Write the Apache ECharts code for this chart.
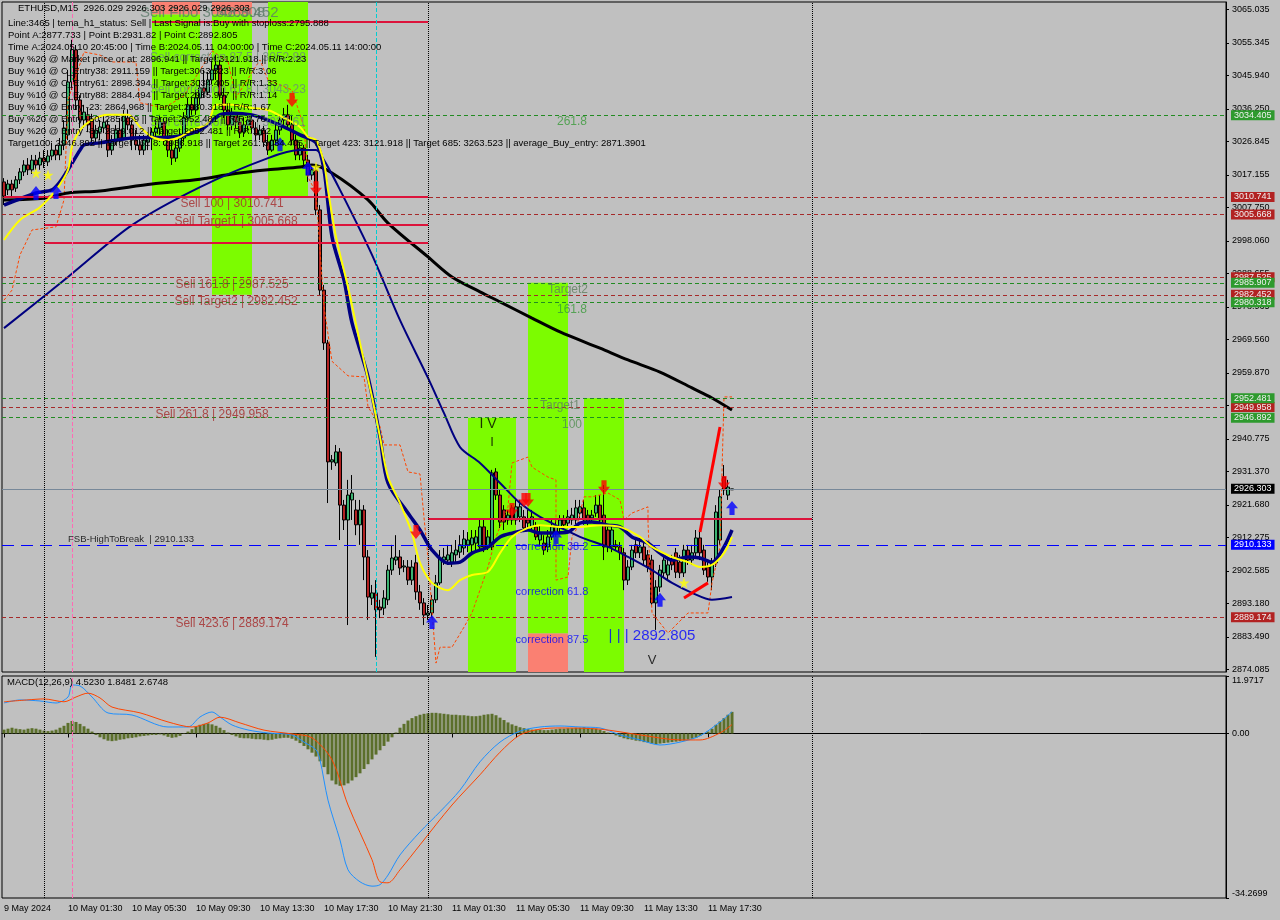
<!DOCTYPE html>
<html><head><meta charset="utf-8">
<script src="https://cdn.jsdelivr.net/npm/echarts@6/dist/echarts.min.js"></script>
<style>html,body{margin:0;padding:0;background:#c0c0c0}#c{width:1280px;height:920px}</style>
</head><body><div id="c"></div><script>
const FONT = 'Liberation Sans, Arial, sans-serif';
const N_SLOTS = 306;
const xTickIdx = [0,16,32,48,64,80,96,112,128,144,160,176];
const xTickLabels = ['9 May 2024','10 May 01:30','10 May 05:30','10 May 09:30','10 May 13:30','10 May 17:30','10 May 21:30','11 May 01:30','11 May 05:30','11 May 09:30','11 May 13:30','11 May 17:30'];
const priceTicks = [3065.035,3055.345,3045.940,3036.250,3026.845,3017.155,3007.750,2998.060,2988.655,2978.965,2969.560,2959.870,2950.465,2940.775,2931.370,2921.680,2912.275,2902.585,2893.180,2883.490,2874.085];
const priceMin = 2873.32, priceMax = 3067.15;
const macdMin = -34.2699, macdMax = 11.9717;
const macdTicks = [-34.2699, 0, 11.9717];

// [open, close, low, high]
const ohlc = [
[3015.1,3011.0,3008.4,3016.2],[3012.8,3014.5,3011.3,3015.7],[3014.5,3012.8,3011.0,3015.7],[3013.3,3015.7,3012.2,3016.8],[3015.7,3018.0,3014.5,3019.1],
[3018.0,3020.0,3016.8,3021.4],[3020.0,3018.6,3017.1,3022.0],[3018.6,3021.4,3017.4,3022.9],[3021.4,3020.0,3018.6,3022.9],[3020.0,3022.0,3018.6,3023.8],
[3022.0,3020.9,3019.1,3024.3],[3020.9,3022.6,3019.7,3024.3],[3022.6,3024.3,3021.4,3026.4],[3024.3,3022.9,3021.4,3025.8],[3022.9,3025.8,3021.4,3027.8],
[3025.8,3030.7,3024.3,3033.0],[3028.7,3044.0,3027.2,3047.5],[3044.0,3053.3,3041.7,3056.2],[3053.3,3038.8,3035.9,3054.7],[3038.8,3033.0,3030.7,3040.2],
[3033.0,3035.3,3030.7,3037.4],[3034.5,3031.6,3029.5,3036.5],[3033.0,3027.8,3025.8,3034.8],[3027.8,3030.1,3026.6,3031.6],[3029.5,3031.0,3027.2,3033.0],
[3030.7,3032.4,3029.2,3034.5],[3031.6,3024.3,3022.3,3033.0],[3024.3,3027.2,3022.9,3028.7],[3027.2,3030.1,3025.8,3031.6],[3030.1,3027.8,3026.4,3033.6],
[3027.8,3034.5,3027.2,3035.9],[3033.6,3031.6,3030.1,3035.9],[3031.6,3027.2,3024.3,3033.0],[3027.2,3025.8,3024.3,3030.1],[3025.8,3024.3,3022.9,3028.7],
[3024.3,3027.2,3022.9,3028.7],[3026.6,3027.8,3024.3,3029.5],[3027.8,3029.5,3024.3,3030.7],[3029.5,3030.7,3027.8,3033.0],[3030.7,3032.4,3028.7,3034.5],
[3032.4,3027.8,3025.8,3033.6],[3027.8,3024.3,3022.3,3030.1],[3024.3,3022.0,3020.0,3027.2],[3022.0,3024.9,3020.9,3027.2],[3024.9,3027.8,3023.8,3030.1],
[3027.8,3033.6,3026.6,3035.3],[3033.6,3037.4,3032.4,3039.4],[3037.4,3035.9,3034.5,3039.4],[3035.9,3039.4,3034.5,3041.7],[3039.4,3042.3,3037.4,3044.6],
[3042.3,3041.1,3039.4,3047.5],[3041.1,3044.6,3040.2,3046.9],[3044.6,3047.5,3043.1,3050.4],[3047.5,3048.9,3044.6,3051.8],[3048.9,3040.2,3038.8,3050.4],
[3040.2,3035.9,3033.6,3042.3],[3035.9,3031.6,3030.1,3037.4],[3031.6,3034.5,3030.1,3036.5],[3034.5,3032.4,3030.7,3035.3],[3032.4,3029.5,3027.8,3034.2],
[3029.5,3031.6,3028.1,3033.6],[3031.6,3033.0,3030.1,3034.5],[3033.0,3030.7,3029.2,3034.5],[3030.7,3028.7,3027.2,3032.4],[3028.7,3030.1,3027.2,3031.6],
[3030.1,3026.6,3025.2,3031.3],[3026.6,3024.3,3022.9,3028.7],[3024.3,3027.2,3023.8,3028.7],[3027.2,3030.1,3025.8,3031.6],[3030.1,3033.0,3028.7,3034.5],
[3033.0,3034.5,3031.6,3036.5],[3034.5,3031.6,3030.1,3037.4],[3031.6,3027.2,3025.8,3034.5],[3027.2,3022.9,3021.4,3028.7],[3022.9,3024.9,3021.4,3026.6],
[3024.9,3021.4,3020.0,3025.8],[3021.4,3017.1,3015.1,3022.9],[3017.1,3018.6,3015.7,3020.0],[3018.6,3007.0,3005.5,3020.0],[3007.0,2983.8,2982.4,3008.4],
[2983.8,2968.5,2966.5,2985.3],[2968.5,2934.1,2922.2,2969.4],[2934.1,2934.7,2931.8,2936.1],[2933.8,2937.0,2932.9,2939.0],[2937.0,2921.6,2911.5,2938.1],
[2921.6,2917.3,2914.4,2923.1],[2917.3,2924.5,2886.9,2928.9],[2923.1,2925.1,2917.3,2930.3],[2920.2,2915.9,2912.9,2923.1],[2915.9,2920.2,2910.1,2923.1],
[2920.2,2906.6,2899.9,2921.6],[2906.6,2895.0,2888.4,2908.6],[2894.7,2896.2,2892.7,2898.5],[2896.2,2891.3,2877.7,2899.9],[2892.1,2891.3,2888.9,2894.2],
[2891.8,2894.7,2889.8,2897.0],[2894.2,2902.8,2892.7,2904.3],[2902.8,2906.3,2901.4,2910.1],[2905.7,2906.6,2904.3,2912.9],[2906.6,2903.4,2901.4,2908.6],
[2903.7,2904.0,2902.2,2905.7],[2903.7,2899.9,2898.5,2905.7],[2899.9,2903.7,2898.5,2905.7],[2904.9,2896.5,2894.2,2907.2],[2896.5,2893.3,2891.3,2898.5],
[2893.3,2889.8,2886.9,2894.7],[2889.8,2890.4,2888.4,2892.7],[2890.4,2894.2,2888.9,2895.6],[2894.2,2899.1,2893.3,2901.4],[2899.1,2906.3,2898.5,2908.6],
[2905.7,2906.6,2904.3,2909.2],[2905.7,2907.2,2904.3,2910.1],[2905.1,2907.8,2903.7,2910.1],[2907.2,2908.6,2905.1,2911.5],[2908.0,2910.1,2906.3,2912.9],
[2909.2,2911.8,2907.2,2914.4],[2910.1,2911.5,2908.0,2913.8],[2910.1,2912.1,2908.0,2914.4],[2910.6,2912.4,2908.6,2914.4],[2909.5,2915.3,2908.6,2917.3],
[2915.3,2909.5,2908.0,2917.3],[2909.5,2912.4,2908.6,2914.4],[2909.5,2930.9,2908.6,2931.8],[2931.2,2924.5,2923.1,2932.3],[2924.5,2916.7,2915.0,2926.0],
[2920.2,2916.7,2914.4,2921.6],[2917.3,2918.7,2915.9,2920.2],[2920.8,2917.3,2915.9,2921.6],[2917.3,2921.1,2915.9,2923.1],[2918.2,2921.1,2916.7,2923.1],
[2918.2,2915.0,2913.8,2920.2],[2917.3,2916.4,2914.4,2920.2],[2915.3,2918.2,2913.8,2920.2],[2915.3,2912.4,2911.5,2916.7],[2911.5,2913.5,2910.1,2915.9],
[2910.6,2908.6,2907.2,2912.9],[2909.5,2912.4,2908.0,2914.4],[2912.4,2915.3,2911.5,2917.3],[2913.5,2915.3,2912.4,2917.3],[2915.3,2917.3,2913.8,2918.7],
[2917.3,2915.9,2914.4,2918.7],[2916.4,2918.2,2915.3,2920.2],[2917.3,2918.7,2915.9,2920.8],[2917.3,2920.8,2916.1,2923.1],[2919.3,2921.1,2917.9,2923.1],
[2920.8,2917.3,2915.9,2923.1],[2918.7,2916.7,2915.3,2920.2],[2917.9,2918.7,2916.7,2920.2],[2919.3,2921.6,2918.2,2924.5],[2921.6,2917.3,2915.9,2924.5],
[2918.7,2909.5,2905.7,2927.4],[2914.4,2909.5,2908.0,2915.9],[2909.5,2914.4,2908.0,2915.9],[2910.1,2909.5,2908.6,2911.5],[2909.5,2907.8,2905.7,2910.9],
[2907.8,2899.9,2897.0,2909.2],[2899.9,2903.7,2898.5,2905.7],[2903.7,2908.6,2902.8,2910.1],[2910.1,2907.8,2906.3,2911.5],[2907.8,2909.5,2906.3,2911.5],
[2909.5,2905.7,2904.3,2911.5],[2907.2,2903.7,2902.2,2908.6],[2905.7,2893.3,2892.8,2907.2],[2893.3,2897.9,2885.5,2899.9],[2897.9,2902.8,2896.5,2904.3],
[2902.0,2905.7,2900.5,2907.2],[2901.4,2904.3,2899.9,2906.3],[2905.7,2904.3,2902.8,2907.2],[2907.8,2902.2,2900.5,2909.2],[2905.1,2902.0,2900.5,2907.2],
[2902.0,2908.6,2900.8,2910.1],[2908.6,2905.7,2904.3,2910.1],[2905.7,2907.8,2904.3,2910.1],[2907.8,2912.1,2906.6,2914.4],[2912.1,2907.8,2905.7,2914.4],
[2908.6,2902.8,2901.4,2910.1],[2903.7,2900.8,2899.4,2905.7],[2900.8,2904.9,2897.0,2906.3],[2904.9,2919.6,2903.7,2921.6],[2911.5,2924.0,2910.1,2926.0],
[2929.7,2926.0,2924.5,2933.2],[2924.5,2926.8,2923.1,2928.9],[2926.03,2926.30,2926.03,2926.30]
];

// moving averages: [bar index, price]
const maSlowBlack = [[0,3009.9],[10,3010.4],[16,3011.9],[24,3012.5],[37,3014.5],[49,3015.9],[57,3017.4],[66,3018.6],[74,3019.4],[77,3020.0],[82,3017.7],[91,3009.9],[96,3003.2],[106,2993.4],[112,2987.6],[119,2983.3],[124,2980.4],[132,2975.7],[139,2971.7],[149,2967.0],[156,2963.6],[164,2960.1],[172,2955.5],[177,2952.6],[182,2949.1]];
const maMidNavy = [[0,2972.8],[16,2987.6],[32,3002.6],[49,3013.6],[66,3022.0],[74,3024.3],[78,3024.3],[80,3021.4],[84,3012.8],[92,2994.0],[99,2975.1],[106,2958.4],[110,2948.2],[114,2938.4],[119,2933.8],[124,2928.0],[129,2922.2],[134,2918.2],[144,2912.4],[151,2909.5],[156,2906.6],[162,2902.8],[167,2899.1],[172,2896.2],[177,2894.2],[182,2895.0]];
const maFastNavy = [[0,3008.4],[8,3011.9],[12,3012.8],[14,3015.1],[16,3018.6],[19,3024.3],[20,3025.8],[24,3026.4],[32,3027.8],[42,3028.1],[49,3030.1],[54,3034.5],[57,3035.0],[62,3034.5],[66,3033.0],[70,3031.0],[74,3028.7],[78,3026.4],[80,3018.6],[82,2999.2],[85,2986.7],[87,2974.3],[91,2958.7],[94,2941.3],[96,2928.0],[101,2919.3],[104,2914.4],[107,2908.6],[111,2904.8],[114,2905.1],[117,2907.7],[121,2909.5],[124,2912.4],[127,2913.5],[131,2914.4],[134,2913.5],[137,2913.5],[141,2913.8],[144,2916.4],[147,2916.7],[151,2915.8],[154,2915.3],[157,2912.4],[161,2910.6],[164,2907.7],[167,2905.7],[171,2906.6],[174,2906.3],[177,2905.1],[180,2909.5],[182,2914.4]];
const maYellow = [[0,2998.3],[4,3004.1],[9,3007.8],[13,3012.8],[16,3018.6],[17,3025.2],[19,3030.1],[22,3033.0],[26,3034.5],[31,3034.5],[34,3031.0],[37,3028.1],[41,3027.2],[44,3028.1],[47,3030.1],[51,3032.1],[53,3037.4],[57,3037.4],[62,3036.5],[66,3035.9],[70,3033.6],[74,3031.0],[76,3028.1],[78,3027.2],[80,3020.6],[81,3012.8],[83,2999.2],[86,2984.7],[89,2968.5],[92,2952.9],[94,2941.3],[96,2929.7],[99,2922.2],[102,2913.5],[104,2904.9],[107,2899.1],[111,2897.0],[114,2899.9],[117,2901.4],[121,2902.3],[124,2907.7],[127,2912.4],[131,2915.0],[134,2915.8],[139,2915.3],[144,2915.3],[149,2915.8],[154,2915.3],[159,2912.4],[162,2909.5],[167,2906.6],[171,2905.1],[174,2903.7],[177,2904.3],[180,2907.7],[182,2912.4]];
const stopLine = [[0,2980.9],[2,2983.8],[4,2994.0],[7,3001.2],[13,3002.1],[15,3009.9],[16,3038.8],[20,3052.7],[24,3051.8],[27,3049.8],[33,3049.8],[34,3038.0],[40,3036.5],[45,3040.0],[52,3053.0],[56,3050.0],[58,3039.5],[64,3050.4],[66,3044.6],[72,3041.7],[75,3031.0],[76,3016.5],[78,3012.0],[80,2979.0],[82,2963.2],[86,2959.0],[90,2958.7],[91,2950.1],[94,2944.3],[95,2939.0],[99,2939.0],[101,2931.2],[104,2930.6],[105,2918.0],[106,2906.6],[108,2875.9],[109,2880.5],[112,2880.5],[115,2886.3],[117,2890.4],[121,2903.7],[123,2912.4],[126,2921.1],[127,2933.8],[131,2935.5],[132,2932.6],[136,2929.7],[138,2928.9],[138,2899.9],[141,2900.8],[142,2912.4],[143,2914.4],[145,2924.0],[147,2924.0],[151,2925.1],[154,2923.1],[155,2917.3],[157,2919.3],[161,2921.1],[161,2916.4],[162,2890.4],[166,2884.6],[171,2890.4],[176,2890.4],[177,2899.1],[179,2909.5],[180,2952.9],[182,2952.9]];

const macdHist = [0.8,1.0,1.2,1.0,0.9,0.8,1.0,1.1,1.0,0.8,0.6,0.5,0.6,0.8,
1.2,1.6,2.2,2.6,2.4,2.0,
1.5,1.0,0.4,-0.3,-0.8,
-1.2,-1.5,-1.6,-1.5,-1.3,-1.2,-1.0,-0.9,-0.8,-0.6,
-0.5,-0.4,-0.3,-0.3,-0.2,-0.4,-0.7,-0.9,-0.8,-0.5,-0.1,
0.4,0.9,1.4,1.8,2.0,2.1,1.9,1.6,1.2,0.7,
0.2,-0.3,-0.6,-0.9,-1.0,-1.0,-1.1,-1.2,-1.2,-1.3,-1.4,-1.3,-1.1,-1.0,-0.9,-0.9,-1.1,
-1.5,-2.0,-2.6,-3.3,-4.0,-4.8,-5.8,
-7.0,-8.5,-9.8,-10.6,-10.9,-10.8,-10.4,-9.8,-9.1,
-8.3,-7.4,-6.4,-5.4,-4.4,-3.5,-2.6,-1.7,-0.8,0.2,
1.2,2.0,2.7,3.2,3.6,3.9,4.1,4.2,4.3,4.3,4.2,4.1,
4.0,3.9,3.9,3.8,3.8,3.7,3.6,3.6,3.7,3.9,4.0,4.1,3.8,3.3,
2.8,2.3,1.9,1.6,1.3,1.1,0.9,0.8,0.8,0.8,0.7,
0.7,0.8,0.9,1.0,1.0,1.1,1.1,1.2,1.2,1.3,1.2,1.1,1.0,0.8,0.5,
0.2,-0.1,-0.4,-0.7,-1.0,-1.2,-1.3,-1.5,-1.6,-1.8,-1.9,-2.1,-2.2,-2.1,-2.0,
-1.9,-1.8,-1.7,-1.6,-1.5,-1.3,-1.1,-0.9,-0.5,-0.1,0.4,
1.0,1.8,2.5,3.2,3.9,4.5];
const macdMain = [[0,6.35],[4,6.98],[9,6.77],[13,6.35],[16,7.6],[17,10.1],[19,9.9],[22,7.6],[26,4.27],[32,3.85],[41,1.35],[46,1.35],[49,3.44],[52,4.48],[54,3.44],[57,1.77],[61,0.73],[66,0.1],[72,-0.3],[75,-1.8],[78,-3.4],[79,-5.5],[81,-13.9],[84,-22.2],[86,-28.4],[89,-30.9],[92,-31.8],[94,-31.5],[96,-29.5],[99,-25.3],[104,-20.5],[109,-16.3],[114,-11.8],[119,-5.9],[124,-1.8],[129,0.5],[134,1.35],[139,1.56],[144,1.35],[149,1.15],[154,-0.3],[159,-1.35],[164,-2.4],[169,-1.8],[174,-0.5],[179,2.4],[182,4.52]];
const macdSignal = [[0,6.6],[6,7.0],[10,7.2],[15,6.6],[18,7.6],[21,8.4],[24,7.4],[27,5.5],[34,4.3],[41,2.4],[47,1.35],[51,2.2],[54,3.4],[59,2.2],[65,0.7],[72,-0.1],[77,-0.9],[82,-5.5],[86,-14.9],[92,-26.3],[94,-30.9],[96,-31.1],[99,-28.4],[104,-23.2],[112,-14.9],[119,-8.6],[124,-3.9],[129,-0.3],[134,0.9],[139,1.15],[149,0.9],[159,-0.3],[169,-1.35],[174,-1.35],[179,0.1],[182,1.85]];

// level lines
const redLevels = [3010.741, 3005.668, 2987.525, 2982.452, 2949.958, 2889.174];
const greenLevels = [3034.405, 2985.907, 2980.318, 2952.481, 2946.892];
const lastPrice = 2926.303;
const fsbLevel = 2910.133;

// signals [bar index, price]
const sellArrows = [[72,3038.8],[78,3013.3],[103,2913.8],[127,2920.2],[130,2923.1],[131,2923.1],[150,2926.8],[180,2928.0]];
const buyArrows = [[8,3011.9],[13,3012.2],[69,3026.0],[76,3019.0],[107,2887.8],[138,2912.4],[164,2894.2],[182,2920.8]];
const stars = [[8,3017.7],[11,3017.1],[78,3019.4],[170,2899.1]];

const cats = []; for (let i = 0; i < N_SLOTS; i++) cats.push(String(i));

const dash = [4,3];
const levelLines = [];
redLevels.forEach(v => levelLines.push({yAxis: v, lineStyle:{color:'#a52a2a', type:dash, width:1},
  label:{show:true, position:'end', formatter: v.toFixed(3), backgroundColor:'#b22222', color:'#f0f0f0', padding:[1,3,0,3], fontSize:9, fontFamily:FONT, distance:5}}));
greenLevels.forEach(v => levelLines.push({yAxis: v, lineStyle:{color:'#228b22', type:dash, width:1},
  label:{show:true, position:'end', formatter: v.toFixed(3), backgroundColor:'#2e9a2e', color:'#f0f0f0', padding:[1,3,0,3], fontSize:9, fontFamily:FONT, distance:5}}));
levelLines.push({yAxis: lastPrice, lineStyle:{color:'#778899', type:'solid', width:1},
  label:{show:true, position:'end', formatter: lastPrice.toFixed(3), backgroundColor:'#000', color:'#fff', padding:[1,3,0,3], fontSize:9, fontFamily:FONT, distance:5}});
levelLines.push({yAxis: fsbLevel, lineStyle:{color:'#0000ff', type:[12,7], width:1},
  label:{show:true, position:'end', formatter: fsbLevel.toFixed(3), backgroundColor:'#0000ff', color:'#fff', padding:[1,3,0,3], fontSize:9, fontFamily:FONT, distance:5}});
// partial solid red lines
const seg = (a,b,v) => [{coord:[a,v], lineStyle:{color:'#dc143c', width:2, type:'solid'}, label:{show:false}}, {coord:[b,v]}];
levelLines.push(seg(37,106,3061.5), seg(0,106,3010.741), seg(10,106,3002.6), seg(10,106,2997.4), seg(106,202,2917.6));
// vertical separators
const vline = (i, color, type) => ({xAxis: i, lineStyle:{color, type, width:1}, label:{show:false}});
levelLines.push(vline(10,'#000','dotted'), vline(106,'#000','dotted'), vline(202,'#000','dotted'), vline(17,'#ff69b4','dashed'), vline(93,'#00ced1','dashed'));

const G = '#7cfc00', S = '#fa8072';
const box = (a,b,lo,hi,c) => [{xAxis:a, yAxis:hi, itemStyle:{color:c, opacity:1}}, {xAxis:b, yAxis:lo}];
const areas = [
  box(37,49,3063.523,priceMax,S), box(37,49,3010.741,3063.523,G),
  box(52,62,3063.523,priceMax,S), box(52,62,2982.452,3063.523,G),
  box(66,76,3010.741,priceMax,G),
  box(116,128,priceMin,2946.892,G),
  box(131,141,2884.494,2985.907,G), box(131,141,priceMin,2884.494,S),
  box(145,155,priceMin,2952.481,G)
];

const txt = (i, p, text, color, size, extra) => ({value:[i,p], label:Object.assign({show:true, formatter:text, color, fontSize:size, fontFamily:FONT}, extra||{})});
const texts = [
  txt(57,3008.7,'Sell 100 | 3010.741','#a52a2a',12),
  txt(58,3003.5,'Sell Target1 | 3005.668','#a52a2a',12),
  txt(57,2985.3,'Sell 161.8 | 2987.525','#a52a2a',12),
  txt(58,2980.4,'Sell Target2 | 2982.452','#a52a2a',12),
  txt(52,2947.9,'Sell 261.8 | 2949.958','#a52a2a',12),
  txt(57,2887.2,'Sell 423.6 | 2889.174','#a52a2a',12),
  txt(142,3032.4,'261.8','#3a9a3a',12),
  txt(141,2983.8,'Target2','#5f7f5f',12),
  txt(142,2978.0,'161.8','#3a9a3a',12),
  txt(139,2950.3,'Target1','#5f7f5f',12),
  txt(142,2945.0,'100','#4f8f4f',12),
  txt(137,2909.5,'correction 38.2','#0000ff',11),
  txt(137,2896.5,'correction 61.8','#0000ff',11),
  txt(137,2882.6,'correction 87.5','#0000ff',11),
  txt(162,2883.7,'| | | 2892.805','#0000ff',15),
  txt(121,2945.0,'I V','#000',14),
  txt(122,2939.6,'I','#000',13),
  txt(162,2876.8,'V','#000',13),
  txt(16,2911.8,'FSB-HighToBreak  | 2910.133','#000',9.5,{align:'left'}),
  txt(34,3064.0,'Sell Fibo 3048.308','#5c7a6a',15,{align:'left'}),
  txt(53,3064.0,'3066.452','#5c7a6a',15,{align:'left'}),
  txt(56,3050.9,'Sell correction 87.5 | 3052.88','#6a8a7a',12),
  txt(56,3041.7,'Sell correction 61.8 | 3043.23','#6a8a7a',12),
  txt(56,3032.1,'Sell correction 38.2 | 3037.61','#6a8a7a',12)
];

const infoLines = [
 'Line:3465 | tema_h1_status: Sell | Last Signal is:Buy with stoploss:2795.888',
 'Point A:2877.733 | Point B:2931.82 | Point C:2892.805',
 'Time A:2024.05.10 20:45:00 | Time B:2024.05.11 04:00:00 | Time C:2024.05.11 14:00:00',
 'Buy %20 @ Market price or at: 2896.941 || Target:3121.918 || R/R:2.23',
 'Buy %10 @ C_Entry38: 2911.159 || Target:3063.523 || R/R:3.06',
 'Buy %10 @ C_Entry61: 2898.394 || Target:3034.405 || R/R:1.33',
 'Buy %10 @ C_Entry88: 2884.494 || Target:2985.907 || R/R:1.14',
 'Buy %10 @ Entry -23: 2864.968 || Target:2980.318 || R/R:1.67',
 'Buy %20 @ Entry -50: 2850.69 || Target:2952.481 || R/R:1.76',
 'Buy %20 @ Entry -88: 2829.012 || Target:2952.481 || R/R:1.62',
 'Target100: 2946.892 || Target 161.8: 2936.918 || Target 261: 3034.405 || Target 423: 3121.918 || Target 685: 3263.523 || average_Buy_entry: 2871.3901'
];

const downArrow = 'path://M4,0 L10,0 L10,7 L14,7 L7,15 L0,7 L4,7 Z';
const upArrow = 'path://M7,0 L14,8 L10,8 L10,15 L4,15 L4,8 L0,8 Z';
const star = 'path://M50,0 L61,35 L98,35 L68,57 L79,91 L50,70 L21,91 L32,57 L2,35 L39,35 Z';

const chart = echarts.init(document.getElementById('c'), null, {renderer:'canvas'});
chart.setOption({
  animation:false,
  backgroundColor:'#c0c0c0',
  textStyle:{fontFamily:FONT},
  grid:[
    {left:2, top:2, width:1224, height:670, show:true, borderColor:'#000', borderWidth:1, backgroundColor:'transparent'},
    {left:2, top:676, width:1224, height:222, show:true, borderColor:'#000', borderWidth:1, backgroundColor:'transparent'}
  ],
  xAxis:[
    {type:'category', gridIndex:0, data:cats, boundaryGap:true, axisLine:{show:false}, axisTick:{show:false}, axisLabel:{show:false}, splitLine:{show:false}},
    {type:'category', gridIndex:1, data:cats, boundaryGap:true,
     axisLine:{show:true, lineStyle:{color:'#000'}},
     axisTick:{show:true, alignWithLabel:true, interval:(i)=>xTickIdx.includes(i), length:4, lineStyle:{color:'#000'}},
     axisLabel:{interval:(i)=>xTickIdx.includes(i), formatter:(v)=>{const k=xTickIdx.indexOf(Number(v)); return k>=0?xTickLabels[k]:'';}, align:'left', color:'#000', fontSize:9, fontFamily:FONT, margin:6, hideOverlap:false},
     splitLine:{show:false}}
  ],
  yAxis:[
    {type:'value', gridIndex:0, position:'right', min:priceMin, max:priceMax, splitLine:{show:false},
     axisLine:{show:true, lineStyle:{color:'#000'}},
     axisTick:{show:true, customValues:priceTicks, length:3, lineStyle:{color:'#000'}},
     axisLabel:{customValues:priceTicks, formatter:(v)=>v.toFixed(3), color:'#000', fontSize:9, fontFamily:FONT, margin:6}},
    {type:'value', gridIndex:1, position:'right', min:macdMin, max:macdMax, splitLine:{show:false},
     axisLine:{show:true, lineStyle:{color:'#000'}},
     axisTick:{show:true, customValues:macdTicks, length:3, lineStyle:{color:'#000'}},
     axisLabel:{customValues:macdTicks, formatter:(v)=> v===0?'0.00':v.toFixed(4), color:'#000', fontSize:9, fontFamily:FONT, margin:6,
       verticalAlignMinLabel:'bottom', verticalAlignMaxLabel:'top'}}
  ],
  series:[
    {type:'line', name:'zones', xAxisIndex:0, yAxisIndex:0, data:[], z:1, silent:true,
     markArea:{silent:true, data:areas}},
    {type:'line', name:'levels', xAxisIndex:0, yAxisIndex:0, data:[], z:2, silent:true,
     markLine:{silent:true, symbol:['none','none'], animation:false, data:levelLines}},
    {type:'candlestick', name:'ETHUSD', xAxisIndex:0, yAxisIndex:0, data:ohlc, barWidth:3, z:3,
     itemStyle:{color:'#3cb371', color0:'#b22222', borderColor:'#000', borderColor0:'#000', borderWidth:1}},
    {type:'line', name:'stop', xAxisIndex:0, yAxisIndex:0, data:stopLine, showSymbol:false, z:4, lineStyle:{color:'#ff4500', width:1, type:[3,2]}},
    {type:'line', name:'ma200', xAxisIndex:0, yAxisIndex:0, data:maSlowBlack, showSymbol:false, smooth:0.3, z:4, lineStyle:{color:'#000', width:3}},
    {type:'line', name:'ma50', xAxisIndex:0, yAxisIndex:0, data:maMidNavy, showSymbol:false, smooth:0.3, z:4, lineStyle:{color:'#000080', width:2}},
    {type:'line', name:'ma20', xAxisIndex:0, yAxisIndex:0, data:maFastNavy, showSymbol:false, smooth:0.3, z:4, lineStyle:{color:'#000080', width:3.5}},
    {type:'line', name:'maY', xAxisIndex:0, yAxisIndex:0, data:maYellow, showSymbol:false, smooth:0.3, z:5, lineStyle:{color:'#ffff00', width:2}},
    {type:'line', name:'zz1', xAxisIndex:0, yAxisIndex:0, data:[[170,2894.7],[176,2899.1]], showSymbol:false, z:5, lineStyle:{color:'#ff0000', width:3}},
    {type:'line', name:'zz2', xAxisIndex:0, yAxisIndex:0, data:[[174,2913.8],[179,2944.2]], showSymbol:false, z:5, lineStyle:{color:'#ff0000', width:3}},
    {type:'scatter', name:'sell', xAxisIndex:0, yAxisIndex:0, data:sellArrows, symbol:downArrow, symbolSize:[12,14], z:6, itemStyle:{color:'#ff0000'}},
    {type:'scatter', name:'buy', xAxisIndex:0, yAxisIndex:0, data:buyArrows, symbol:upArrow, symbolSize:[12,14], z:6, itemStyle:{color:'#0000ff'}},
    {type:'scatter', name:'stars', xAxisIndex:0, yAxisIndex:0, data:stars, symbol:star, symbolSize:11, z:6, itemStyle:{color:'#ffff00'}},
    {type:'scatter', name:'texts', xAxisIndex:0, yAxisIndex:0, data:texts, symbolSize:0, z:7, silent:true,
     label:{show:true, position:'inside'}},
    {type:'bar', name:'hist', xAxisIndex:1, yAxisIndex:1, data:macdHist, barWidth:3, z:2, itemStyle:{color:'#5b6f2b'},
     markLine:{silent:true, symbol:['none','none'], data:[vline(10,'#000','dotted'), vline(106,'#000','dotted'), vline(202,'#000','dotted'), vline(17,'#ff69b4','dashed')]}},
    {type:'line', name:'macd', xAxisIndex:1, yAxisIndex:1, data:macdMain, showSymbol:false, smooth:0.3, z:3, lineStyle:{color:'#1e90ff', width:1}},
    {type:'line', name:'signal', xAxisIndex:1, yAxisIndex:1, data:macdSignal, showSymbol:false, smooth:0.3, z:3, lineStyle:{color:'#ff4500', width:1}}
  ],
  graphic:[
    {type:'text', left:18, top:3, z:100, style:{text:'ETHUSD,M15  2926.029 2926.303 2926.029 2926.303', fill:'#000', font:'9.5px ' + FONT}},
    {type:'text', left:8, top:17, z:100, style:{text:infoLines.join('\n'), fill:'#000', font:'9.5px ' + FONT, lineHeight:12}},
    {type:'text', left:7, top:677, z:100, style:{text:'MACD(12,26,9) 4.5230 1.8481 2.6748', fill:'#000', font:'9.5px ' + FONT}}
  ]
});
</script></body></html>
